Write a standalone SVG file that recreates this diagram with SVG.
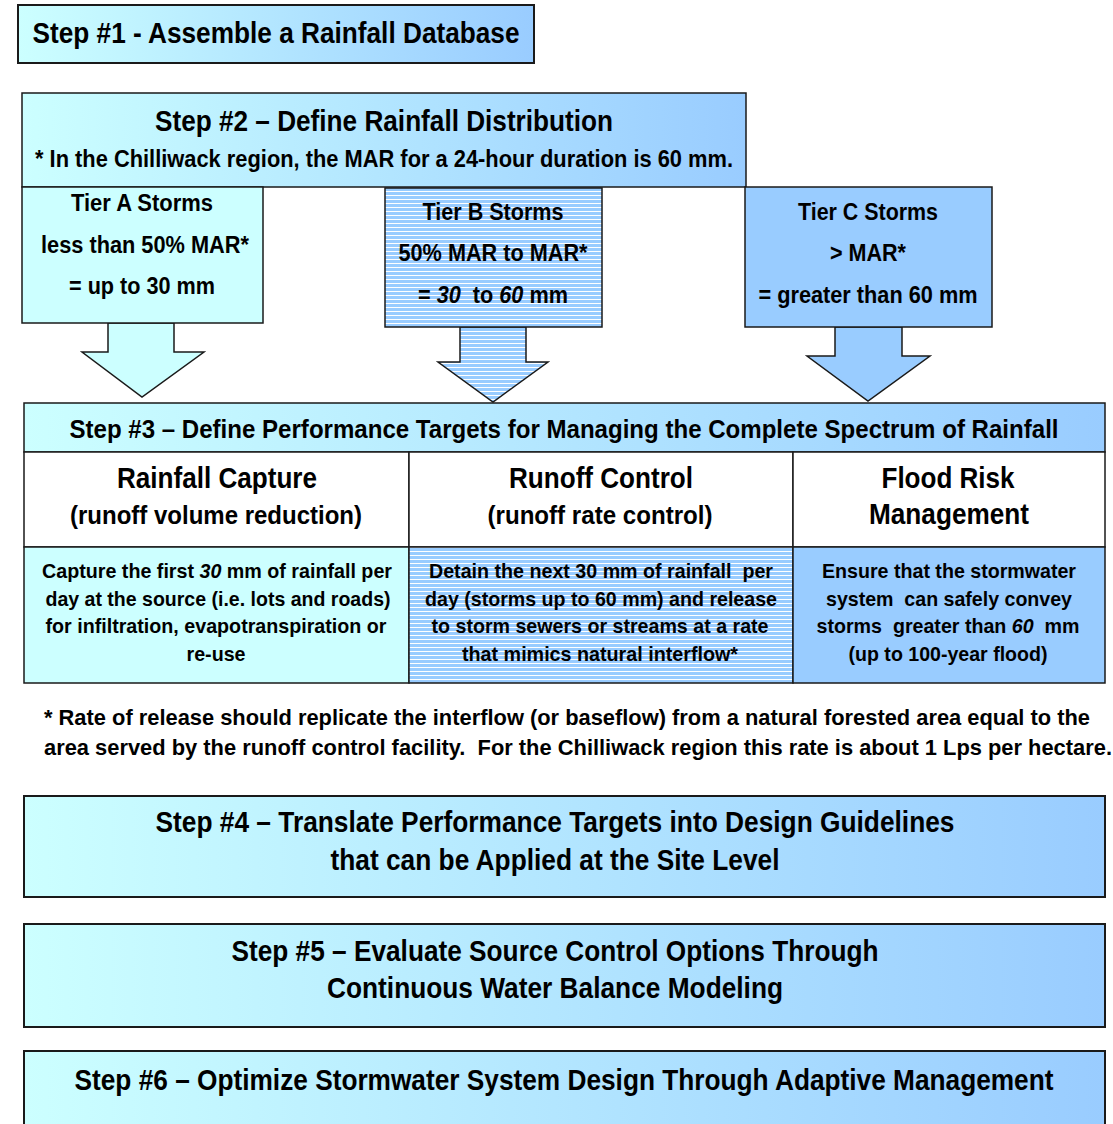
<svg xmlns="http://www.w3.org/2000/svg" width="1113" height="1124" viewBox="0 0 1113 1124">
<defs>
<linearGradient id="grad" x1="0" y1="0" x2="1" y2="0">
<stop offset="0" stop-color="#CCFFFF"/>
<stop offset="1" stop-color="#99CCFF"/>
</linearGradient>
<pattern id="hatch" width="8" height="4" patternUnits="userSpaceOnUse">
<rect width="8" height="4" fill="#99CCFF"/>
<rect y="3" width="8" height="1" fill="#FFFFFF"/>
</pattern>
<style>
.t{font-family:"Liberation Sans",Arial,sans-serif;font-weight:bold;fill:#000;text-anchor:middle}
.box{stroke:#1a1a1a;stroke-width:2}
.thin{stroke:#1a1a1a;stroke-width:1.5}
.f27{font-size:29px}.f24{font-size:25.5px}.f22{font-size:23.5px}.f20{font-size:21px}.f21{font-size:22.5px}.f28{font-size:30px}
.i{font-style:italic}
</style>
</defs>
<rect width="1113" height="1124" fill="#FFFFFF"/>

<g id="step1">
<rect class="box" x="18" y="5" width="516" height="58" fill="url(#grad)"/>
<text class="t f27" x="276" y="43" textLength="487" lengthAdjust="spacingAndGlyphs">Step #1 - Assemble a Rainfall Database</text>
</g>

<g id="step2">
<rect class="thin" x="22" y="93" width="724" height="94" fill="url(#grad)"/>
<text class="t f27" x="384" y="131" textLength="458" lengthAdjust="spacingAndGlyphs">Step #2 – Define Rainfall Distribution</text>
<text class="t f22" x="384" y="167" textLength="698" lengthAdjust="spacingAndGlyphs">* In the Chilliwack region, the MAR for a 24-hour duration is 60 mm.</text>
</g>

<g id="connectors">
<polygon class="thin" points="108,323 174,323 174,352 204,352 142,397 82,352 108,352" fill="#CCFFFF"/>
<polygon class="thin" points="460,327 526,327 526,362 548,362 493,402 438,362 460,362" fill="url(#hatch)"/>
<polygon class="thin" points="835,327 902,327 902,356 930,356 868,401 807,356 835,356" fill="#99CCFF"/>
</g>

<g id="tierA">
<rect class="thin" x="22" y="187" width="241" height="136" fill="#CCFFFF"/>
<text class="t f22" x="142" y="211" textLength="142" lengthAdjust="spacingAndGlyphs">Tier A Storms</text>
<text class="t f22" x="145" y="253" textLength="208" lengthAdjust="spacingAndGlyphs">less than 50% MAR*</text>
<text class="t f22" x="142" y="294" textLength="146" lengthAdjust="spacingAndGlyphs">= up to 30 mm</text>
</g>

<g id="tierB">
<rect class="thin" x="385" y="188" width="217" height="139" fill="url(#hatch)"/>
<text class="t f22" x="493" y="220" textLength="141" lengthAdjust="spacingAndGlyphs">Tier B Storms</text>
<text class="t f22" x="493" y="261" textLength="189" lengthAdjust="spacingAndGlyphs">50% MAR to MAR*</text>
<text class="t f22" x="493" y="303" textLength="150" lengthAdjust="spacingAndGlyphs" xml:space="preserve">= <tspan class="i">30</tspan>  to <tspan class="i">60</tspan> mm</text>
</g>

<g id="tierC">
<rect class="thin" x="745" y="187" width="247" height="140" fill="#99CCFF"/>
<text class="t f22" x="868" y="220" textLength="140" lengthAdjust="spacingAndGlyphs">Tier C Storms</text>
<text class="t f22" x="868" y="261" textLength="76" lengthAdjust="spacingAndGlyphs">&gt; MAR*</text>
<text class="t f22" x="868" y="303" textLength="219" lengthAdjust="spacingAndGlyphs">= greater than 60 mm</text>
</g>

<g id="step3">
<rect class="thin" x="24" y="403" width="1081" height="49" fill="url(#grad)"/>
<text class="t f24" x="564" y="438" textLength="989" lengthAdjust="spacingAndGlyphs">Step #3 – Define Performance Targets for Managing the Complete Spectrum of Rainfall</text>
<rect class="thin" x="24" y="452" width="385" height="95" fill="#FFFFFF"/>
<rect class="thin" x="409" y="452" width="384" height="95" fill="#FFFFFF"/>
<rect class="thin" x="793" y="452" width="312" height="95" fill="#FFFFFF"/>
<rect class="thin" x="24" y="547" width="385" height="136" fill="#CCFFFF"/>
<rect class="thin" x="409" y="547" width="384" height="136" fill="url(#hatch)"/>
<rect class="thin" x="793" y="547" width="312" height="136" fill="#99CCFF"/>
</g>

<g id="col-capture">
<text class="t f27" x="217" y="488" textLength="200" lengthAdjust="spacingAndGlyphs">Rainfall Capture</text>
<text class="t f24" x="216" y="524" textLength="292" lengthAdjust="spacingAndGlyphs">(runoff volume reduction)</text>
<text class="t f20" x="217" y="578" textLength="350" lengthAdjust="spacingAndGlyphs">Capture the first <tspan class="i">30</tspan> mm of rainfall per</text>
<text class="t f20" x="218" y="606" textLength="345" lengthAdjust="spacingAndGlyphs">day at the source (i.e. lots and roads)</text>
<text class="t f20" x="216" y="633" textLength="341" lengthAdjust="spacingAndGlyphs">for infiltration, evapotranspiration or</text>
<text class="t f20" x="216" y="661" textLength="59" lengthAdjust="spacingAndGlyphs">re-use</text>
</g>

<g id="col-control">
<text class="t f27" x="601" y="488" textLength="184" lengthAdjust="spacingAndGlyphs">Runoff Control</text>
<text class="t f24" x="600" y="524" textLength="225" lengthAdjust="spacingAndGlyphs">(runoff rate control)</text>
<text class="t f20" x="601" y="578" textLength="344" lengthAdjust="spacingAndGlyphs" xml:space="preserve">Detain the next 30 mm of rainfall  per</text>
<text class="t f20" x="601" y="606" textLength="352" lengthAdjust="spacingAndGlyphs">day (storms up to 60 mm) and release</text>
<text class="t f20" x="600" y="633" textLength="337" lengthAdjust="spacingAndGlyphs">to storm sewers or streams at a rate</text>
<text class="t f20" x="600" y="661" textLength="276" lengthAdjust="spacingAndGlyphs">that mimics natural interflow*</text>
</g>

<g id="col-flood">
<text class="t f27" x="948" y="488" textLength="133" lengthAdjust="spacingAndGlyphs">Flood Risk</text>
<text class="t f27" x="949" y="524" textLength="160" lengthAdjust="spacingAndGlyphs">Management</text>
<text class="t f20" x="949" y="578" textLength="254" lengthAdjust="spacingAndGlyphs">Ensure that the stormwater</text>
<text class="t f20" x="949" y="606" textLength="246" lengthAdjust="spacingAndGlyphs" xml:space="preserve">system  can safely convey</text>
<text class="t f20" x="948" y="633" textLength="263" lengthAdjust="spacingAndGlyphs" xml:space="preserve">storms  greater than <tspan class="i">60</tspan>  mm</text>
<text class="t f20" x="948" y="661" textLength="199" lengthAdjust="spacingAndGlyphs">(up to 100-year flood)</text>
</g>

<g id="footnote">
<text class="t f21" x="44" y="725" style="text-anchor:start" textLength="1046" lengthAdjust="spacingAndGlyphs">* Rate of release should replicate the interflow (or baseflow) from a natural forested area equal to the</text>
<text class="t f21" x="44" y="755" style="text-anchor:start" textLength="1068" lengthAdjust="spacingAndGlyphs" xml:space="preserve">area served by the runoff control facility.  For the Chilliwack region this rate is about 1 Lps per hectare.</text>
</g>

<g id="step4">
<rect class="box" x="24" y="796" width="1081" height="101" fill="url(#grad)"/>
<text class="t f28" x="555" y="832" textLength="799" lengthAdjust="spacingAndGlyphs">Step #4 – Translate Performance Targets into Design Guidelines</text>
<text class="t f28" x="555" y="870" textLength="449" lengthAdjust="spacingAndGlyphs">that can be Applied at the Site Level</text>
</g>

<g id="step5">
<rect class="box" x="24" y="924" width="1081" height="103" fill="url(#grad)"/>
<text class="t f28" x="555" y="961" textLength="647" lengthAdjust="spacingAndGlyphs">Step #5 – Evaluate Source Control Options Through</text>
<text class="t f28" x="555" y="998" textLength="456" lengthAdjust="spacingAndGlyphs">Continuous Water Balance Modeling</text>
</g>

<g id="step6">
<rect class="box" x="24" y="1051" width="1081" height="80" fill="url(#grad)"/>
<text class="t f28" x="564" y="1090" textLength="979" lengthAdjust="spacingAndGlyphs">Step #6 – Optimize Stormwater System Design Through Adaptive Management</text>
</g>
</svg>
